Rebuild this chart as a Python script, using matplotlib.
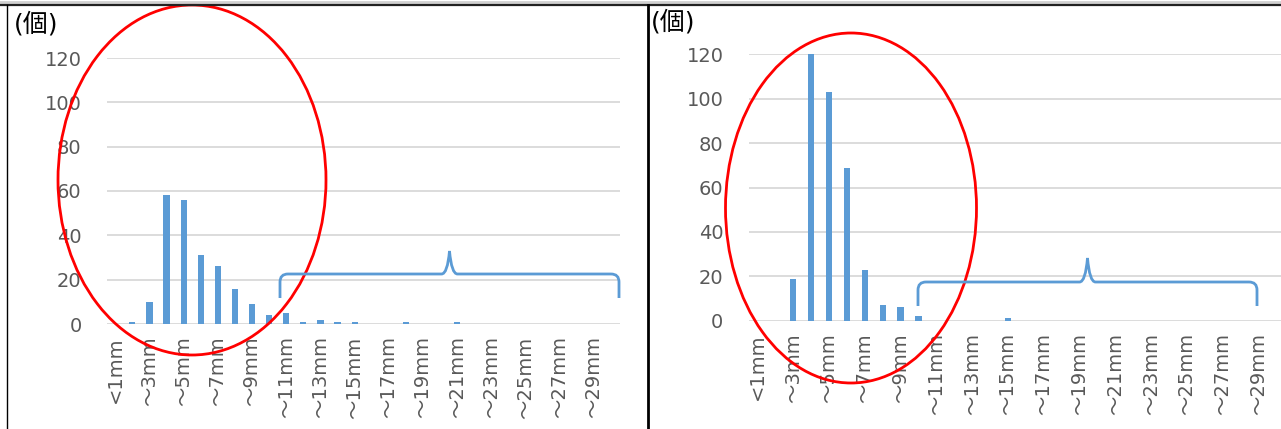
import matplotlib.pyplot as plt
from matplotlib.patches import Ellipse
from matplotlib.path import Path
from matplotlib.patches import PathPatch

plt.rcParams['font.family'] = ['DejaVu Sans', 'Noto Sans CJK JP']

# 粒径カテゴリ (30区分)
cats = ['<1mm'] + ['～%dmm' % i for i in range(2, 31)]
left_vals = [0, 1, 10, 58, 56, 31, 26, 16, 9, 4, 5, 1, 2, 1, 1, 0, 0, 1, 0, 0,
             1, 0, 0, 0, 0, 0, 0, 0, 0, 0]
right_vals = [0, 0, 19, 120, 103, 69, 23, 7, 6, 2, 0, 0, 0, 0, 1, 0, 0, 0, 0, 0,
              0, 0, 0, 0, 0, 0, 0, 0, 0, 0]
yticks = [0, 20, 40, 60, 80, 100, 120]

W, H = 1281, 429
fig = plt.figure(figsize=(W / 100, H / 100), dpi=100)
fig.patch.set_facecolor('white')

BLUE = '#5B9BD5'
GRID = '#D9D9D9'
TXT = '#595959'


def fx(px):
	return px / W


def fy(py):
	return 1 - py / H


def draw_panel(rect, vals):
	ax = fig.add_axes(rect)
	x = list(range(len(vals)))
	ax.bar(x, vals, width=0.36, color=BLUE, zorder=3)
	ax.set_xlim(-0.5, len(vals) - 0.5)
	ax.set_ylim(0, 120)
	ax.set_yticks(yticks)
	ax.set_yticklabels([str(v) for v in yticks], fontsize=14, color=TXT)
	ax.set_xticks(x[::2])
	ax.set_xticklabels(cats[::2], rotation=90, fontsize=14, color=TXT)
	ax.tick_params(length=0)
	ax.tick_params(axis='y', pad=18)
	ax.tick_params(axis='x', pad=9)
	ax.grid(axis='y', color=GRID, lw=1.3, zorder=0)
	for s in ax.spines.values():
		s.set_visible(False)
	ax.set_facecolor('none')
	return ax


draw_panel([fx(106.7), fy(324), 513 / W, 266 / H], left_vals)
draw_panel([fx(748.5), fy(320.7), 537 / W, 266.4 / H], right_vals)

fig.text(fx(14), fy(24), '(個)', fontsize=18, va='center', ha='left', color='black')
fig.text(fx(651), fy(22), '(個)', fontsize=18, va='center', ha='left', color='black')

# 枠線
fig.add_artist(plt.Line2D([0, 1], [fy(1.5), fy(1.5)], color='#D0D0D0', lw=2))
fig.add_artist(plt.Line2D([0, 1], [fy(5), fy(5)], color='#222222', lw=1.6))
fig.add_artist(plt.Line2D([fx(6.5), fx(6.5)], [0, fy(5)], color='black', lw=1))
fig.add_artist(plt.Line2D([fx(648), fx(648)], [0, fy(5)], color='black', lw=2))

# 赤い楕円
fig.add_artist(Ellipse((fx(192), fy(180)), 268 / W, 350 / H, fill=False,
                       ec='red', lw=2, transform=fig.transFigure))
fig.add_artist(Ellipse((fx(851), fy(208)), 251 / W, 350 / H, fill=False,
                       ec='red', lw=2, transform=fig.transFigure))


def brace(x0, x1, y, ytip, yend):
	xm = (x0 + x1) / 2
	r = 8
	verts = [(x0, yend), (x0, y + r), (x0, y), (x0 + r, y), (xm - r, y),
	         (xm - 2, y), (xm, ytip), (xm + 2, y), (xm + r, y),
	         (x1 - r, y), (x1, y), (x1, y + r), (x1, yend)]
	codes = [Path.MOVETO, Path.LINETO, Path.CURVE3, Path.CURVE3, Path.LINETO,
	         Path.CURVE3, Path.CURVE3, Path.CURVE3, Path.CURVE3,
	         Path.LINETO, Path.CURVE3, Path.CURVE3, Path.LINETO]
	verts = [(fx(a), fy(b)) for a, b in verts]
	p = PathPatch(Path(verts, codes), fill=False, ec=BLUE, lw=2,
	              transform=fig.transFigure)
	fig.add_artist(p)


brace(280, 619, 274, 251, 298)
brace(918, 1257, 282, 258, 306)

fig.savefig('out.png', dpi=100)
